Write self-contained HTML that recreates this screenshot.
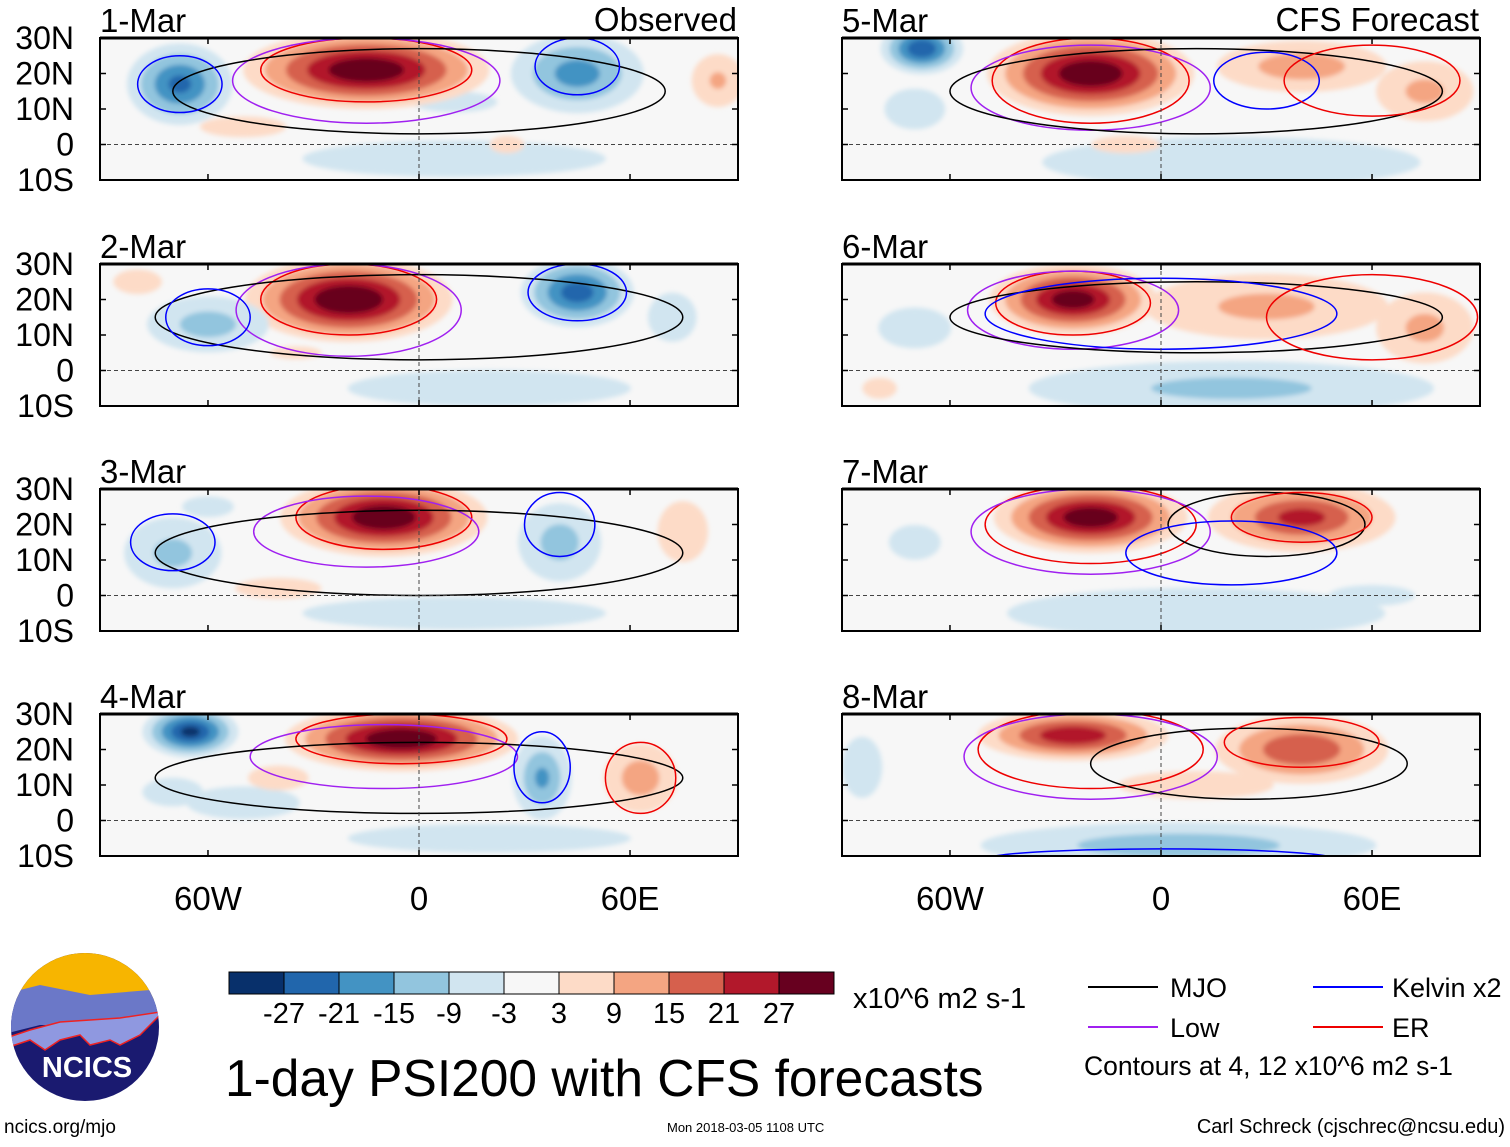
<!DOCTYPE html>
<html><head><meta charset="utf-8">
<style>
body{margin:0;background:#fff;width:1510px;height:1142px;overflow:hidden;font-family:"Liberation Sans",sans-serif;}
svg text{font-family:"Liberation Sans",sans-serif;}
</style></head>
<body>
<svg id="s" width="1510" height="1142" viewBox="0 0 1510 1142" xmlns="http://www.w3.org/2000/svg">
<defs>
<filter id="bl" x="-20%" y="-20%" width="140%" height="140%"><feGaussianBlur stdDeviation="2.5"/></filter>
</defs>
</svg>
<script>
// colour levels
const levelBounds=[-27,-21,-15,-9,-3,3,9,15,21,27];
const levelColors=['#08306b','#2166ac','#4393c3','#92c5de','#d1e5f0','#f7f7f7','#fddbc7','#f4a582','#d6604d','#b2182b','#67001f'];
const panelTitles=['1-Mar','2-Mar','3-Mar','4-Mar','5-Mar','6-Mar','7-Mar','8-Mar'];
const latTicks=['30N','20N','10N','0','10S'];
const latVals=[30,20,10,0,-10];
const lonTicks=['60W','0','60E'];
const lonVals=[-60,0,60];
// anomaly blobs per panel: [lon, lat, rxDeg, ryDeg, peak]
const blobs1=[[10,-4,75,9,-6],[-50,5,25,6,5],[10,12,25,6,-5],[-15,21,38,12,32],[-68,17,17,13,-22],[45,20,22,13,-18],[85,18,10,10,10],[25,0,10,5,5]];
const blobs2=[[20,-5,70,9,-6],[-80,25,12,6,6],[-20,20,32,13,33],[-60,13,22,10,-12],[45,22,18,11,-24],[72,15,12,12,-6],[-35,5,20,5,4]];
const blobs3=[[10,-5,75,8,-6],[-10,22,32,12,32],[-70,12,18,13,-11],[40,15,15,14,-12],[75,18,10,12,9],[-40,2,25,6,5],[-60,25,15,6,-5]];
const blobs4=[[20,-5,70,7,-6],[-50,5,28,8,-6],[-5,23,36,10,32],[-65,25,15,8,-28],[35,12,10,14,-16],[63,12,13,12,13],[-70,8,15,7,-6],[-40,12,15,6,6]];
const blobs5=[[20,-5,75,10,-9],[-20,20,32,13,32],[-68,27,13,8,-26],[40,22,30,9,13],[75,15,18,11,11],[-70,10,15,10,-6],[-10,0,20,5,5]];
const blobs6=[[20,-5,75,10,-11],[-25,20,26,11,30],[30,18,45,12,11],[75,12,18,13,11],[-70,12,18,10,-6],[-80,-5,10,6,5]];
const blobs7=[[10,-5,75,10,-9],[-20,22,30,11,31],[40,22,30,11,23],[-70,15,15,10,-5],[60,0,25,6,-5]];
const blobs8=[[5,-7,70,8,-13],[-25,24,30,8,26],[40,20,28,11,21],[-85,15,8,12,-9],[10,10,45,8,5]];
const allBlobs=[blobs1,blobs2,blobs3,blobs4,blobs5,blobs6,blobs7,blobs8];
// contour lines: [lon, lat, rxDeg, ryDeg, color]
const cont1=[[-15,21,30,9,'#e00'],[-15,18,38,12,'#a020f0'],[0,15,70,12,'#000'],[45,22,12,8,'#00f'],[-68,17,12,8,'#00f']];
const cont2=[[-20,20,25,10,'#e00'],[-20,17,32,13,'#a020f0'],[0,15,75,12,'#000'],[45,22,14,8,'#00f'],[-60,15,12,8,'#00f']];
const cont3=[[-10,22,25,9,'#e00'],[-15,18,32,10,'#a020f0'],[0,12,75,12,'#000'],[40,20,10,9,'#00f'],[-70,15,12,8,'#00f']];
const cont4=[[-5,23,30,7,'#e00'],[-10,18,38,9,'#a020f0'],[0,12,75,10,'#000'],[35,15,8,10,'#00f'],[63,12,10,10,'#e00']];
const cont5=[[-20,18,28,12,'#e00'],[-20,16,34,12,'#a020f0'],[10,15,70,12,'#000'],[30,18,15,8,'#00f'],[60,18,25,10,'#e00']];
const cont6=[[-25,19,22,9,'#e00'],[-25,17,30,11,'#a020f0'],[10,15,70,10,'#000'],[0,16,50,10,'#00f'],[60,15,30,12,'#e00']];
const cont7=[[-20,20,30,11,'#e00'],[-20,18,34,12,'#a020f0'],[30,20,28,9,'#000'],[40,22,20,7,'#e00'],[20,12,30,9,'#00f']];
const cont8=[[-20,20,32,11,'#e00'],[-20,18,36,12,'#a020f0'],[25,16,45,10,'#000'],[40,22,22,7,'#e00'],[0,-11,50,3,'#00f']];
const allConts=[cont1,cont2,cont3,cont4,cont5,cont6,cont7,cont8];

const S=document.getElementById('s');const NS='http://www.w3.org/2000/svg';
function el(t,a,p){const e=document.createElementNS(NS,t);for(const k in a)e.setAttribute(k,a[k]);(p||S).appendChild(e);return e;}
const PW=638,PH=142,colX=[100,842],rowY=[38,264,489,714];
const LON0=-90.7,LON1=90.7,LAT0=30,LAT1=-10;
function colorFor(v){let i=0;while(i<levelBounds.length&&v>levelBounds[i])i++;return levelColors[i];}

for(let p=0;p<8;p++){
  const px=colX[p<4?0:1],py=rowY[p%4];
  const xS=d=>px+(d-LON0)/(LON1-LON0)*PW;
  const yS=d=>py+(d-LAT0)/(LAT1-LAT0)*PH;
  const sx=PW/(LON1-LON0),sy=PH/(LAT0-LAT1);
  const g=el('g',{});
  
  
  el('clipPath',{id:'c'+p},g);
  el('rect',{x:px,y:py,width:PW,height:PH},document.getElementById('c'+p));
  const inner=el('g',{'clip-path':'url(#c'+p+')'},g);
  el('rect',{x:px,y:py,width:PW,height:PH,fill:'#f7f7f7'},inner);
  const fg=el('g',{filter:'url(#bl)'},inner);
  allBlobs[p].forEach(b=>{
    const [lo,la,rx,ry,v]=b;const a=Math.abs(v),sg=Math.sign(v);
    const steps=[3,9,15,21,27].filter(t=>t<a);
    steps.forEach(t=>{
      const f=1-t/a*0.85;
      const e=el('ellipse',{cx:xS(lo),cy:yS(la),rx:rx*sx*f,ry:ry*sy*f,fill:colorFor(sg*(t+0.5))},fg);
      
      
    });
  });
  allConts[p].forEach(c=>{
    const e=el('ellipse',{cx:xS(c[0]),cy:yS(c[1]),rx:c[2]*sx,ry:c[3]*sy,fill:'none',stroke:c[4],'stroke-width':1.5},inner);
    
    
  });
  el('line',{x1:px,x2:px+PW,y1:yS(0),y2:yS(0),stroke:'#444','stroke-dasharray':'4,3','stroke-width':1},inner);
  el('line',{x1:xS(0),x2:xS(0),y1:py,y2:py+PH,stroke:'#444','stroke-dasharray':'4,3','stroke-width':1},inner);
  el('rect',{x:px,y:py,width:PW,height:PH,fill:'none',stroke:'#000','stroke-width':2},g);
  el('line',{x1:px,x2:px+PW,y1:py,y2:py,stroke:'#000','stroke-width':3},g);
  latVals.forEach((v,i)=>{
    el('line',{x1:px,x2:px+6,y1:yS(v),y2:yS(v),stroke:'#000','stroke-width':1.5},g);
    el('line',{x1:px+PW,x2:px+PW-6,y1:yS(v),y2:yS(v),stroke:'#000','stroke-width':1.5},g);
    if(p<4){const t=el('text',{x:74,y:yS(v)+11,'font-size':32,'text-anchor':'end'},g);t.textContent=latTicks[i];}
  });
  lonVals.forEach((v,i)=>{
    el('line',{x1:xS(v),x2:xS(v),y1:py+PH,y2:py+PH-6,stroke:'#000','stroke-width':1.5},g);
    el('line',{x1:xS(v),x2:xS(v),y1:py,y2:py+6,stroke:'#000','stroke-width':1.5},g);
    if(p%4===3){const t=el('text',{x:xS(v),y:910,'font-size':33,'text-anchor':'middle'},g);t.textContent=lonTicks[i];}
  });
  const tt=el('text',{x:px,y:py-6,'font-size':33},g);tt.textContent=panelTitles[p];
  
  
}
// right titles
[['Observed',737],['CFS Forecast',1479]].forEach(a=>{const t=el('text',{x:a[1],y:31,'font-size':33,'text-anchor':'end'});t.textContent=a[0];

});
// colorbar
const cb=el('g',{});


levelColors.forEach((c,i)=>el('rect',{x:229+i*55,y:972,width:55,height:22,fill:c,stroke:'#000','stroke-width':1},cb));
levelBounds.forEach((v,i)=>{const t=el('text',{x:284+i*55,y:1023,'font-size':29,'text-anchor':'middle'},cb);t.textContent=v;});
let t=el('text',{x:853,y:1008,'font-size':29});t.textContent='x10^6 m2 s-1';
t=el('text',{x:225,y:1096,'font-size':51.5});t.textContent='1-day PSI200 with CFS forecasts';


// legend
const lg=el('g',{});


[['MJO','#000',1088,1170,987],['Low','#a020f0',1088,1170,1027],['Kelvin x2','#00f',1313,1392,987],['ER','#e00',1313,1392,1027]].forEach(a=>{
  el('line',{x1:a[2],x2:a[2]+70,y1:a[4],y2:a[4],stroke:a[1],'stroke-width':2},lg);
  const tx=el('text',{x:a[3],y:a[4]+10,'font-size':27},lg);tx.textContent=a[0];});
t=el('text',{x:1084,y:1075,'font-size':26.5},lg);t.textContent='Contours at 4, 12 x10^6 m2 s-1';
t=el('text',{x:4,y:1133,'font-size':19});t.textContent='ncics.org/mjo';
t=el('text',{x:667,y:1132,'font-size':13});t.textContent='Mon 2018-03-05 1108 UTC';
t=el('text',{x:1505,y:1133,'font-size':20,'text-anchor':'end'});t.textContent='Carl Schreck (cjschrec@ncsu.edu)';
// logo
const lo=el('g',{});


el('clipPath',{id:'lc'},lo);el('circle',{cx:85,cy:1027,r:74},document.getElementById('lc'));
const li=el('g',{'clip-path':'url(#lc)'},lo);
el('rect',{x:0,y:950,width:170,height:160,fill:'#1a1a70'},li);
el('rect',{x:0,y:950,width:170,height:50,fill:'#f7b500'},li);
el('path',{d:'M0 995 L40 985 L90 995 L150 990 L170 1000 L170 1015 L150 1020 L100 1025 L40 1025 L0 1035Z',fill:'#6b78c8'},li);
el('path',{d:'M0 1040 L30 1030 L60 1022 L120 1018 L160 1012 L170 1010 L160 1015 L150 1025 L140 1035 L120 1045 L110 1040 L90 1045 L80 1035 L60 1040 L45 1050 L30 1040 L0 1050Z',fill:'#8f98e0',stroke:'#e22','stroke-width':1.5},li);
t=el('text',{x:87,y:1077,'font-size':29,'font-weight':'bold',fill:'#fff','text-anchor':'middle'},lo);t.textContent='NCICS';
</script>
</body></html>
